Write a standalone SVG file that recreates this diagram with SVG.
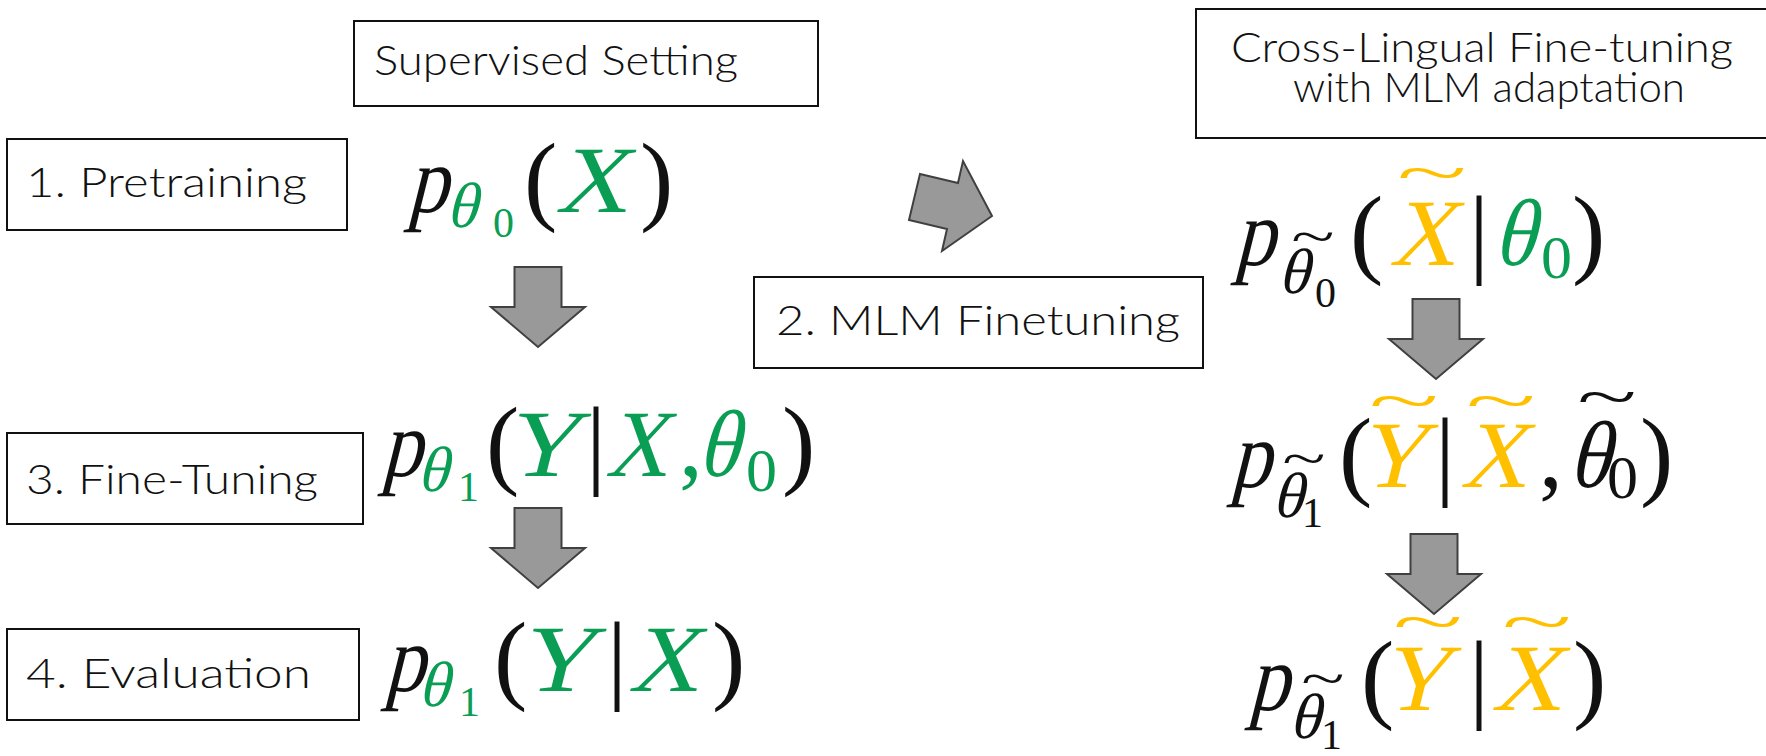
<svg xmlns="http://www.w3.org/2000/svg" width="1766" height="756" viewBox="0 0 1766 756">
  <style>
    .box { fill: #ffffff; stroke: #111111; stroke-width: 2; }
    .lbl { font-family: Lato, "Noto Sans", "Liberation Sans", sans-serif; font-weight: 300; font-size: 42px; fill: #111111; }
    /* math glyphs: serif roman, slanted by transform where italic */
    .mi { font-family: "Liberation Serif", "Times New Roman", serif; font-size: 95px; fill: #111111; }
    .si { font-family: "Liberation Serif", "Times New Roman", serif; font-size: 64px; fill: #111111; }
    .r  { font-family: "Liberation Serif", "Times New Roman", serif; font-size: 100px; fill: #111111; }
    .ss { font-family: "Liberation Serif", "Times New Roman", serif; font-size: 42px; fill: #111111; }
    .sd { font-family: "Liberation Serif", "Times New Roman", serif; font-size: 62px; fill: #111111; }
    .cm { font-family: "Liberation Serif", "Times New Roman", serif; font-size: 95px; fill: #111111; }
    .tl { font-family: "Liberation Serif", "Times New Roman", serif; font-size: 100px; text-anchor: middle; fill: #111111; }
    .g { fill: #0a9e55; }
    .y { fill: #ffc000; }
    .arrow { fill: #999999; stroke: #404040; stroke-width: 2; stroke-linejoin: miter; }
  </style>
  <defs>
    <path id="down" d="M-23.5,0 H23.5 V40 H47 L0,80 L-47,40 H-23.5 Z"/>
  </defs>
  <rect width="1766" height="756" fill="#ffffff"/>

  <!-- section headers -->
  <g id="supervised-setting">
    <rect class="box" x="354" y="21" width="464" height="85"/>
    <text class="lbl" x="374" y="75" textLength="364" lengthAdjust="spacingAndGlyphs">Supervised Setting</text>
  </g>
  <g id="cross-lingual">
    <rect class="box" x="1196" y="9" width="580" height="129"/>
    <text class="lbl" x="1231" y="62" textLength="502" lengthAdjust="spacingAndGlyphs">Cross-Lingual Fine-tuning</text>
    <text class="lbl" x="1293" y="102" textLength="392" lengthAdjust="spacingAndGlyphs">with MLM adaptation</text>
  </g>

  <!-- step labels -->
  <g id="step-pretraining">
    <rect class="box" x="7" y="139" width="340" height="91"/>
    <text class="lbl" x="26" y="197" textLength="281" lengthAdjust="spacingAndGlyphs">1. Pretraining</text>
  </g>
  <g id="step-mlm">
    <rect class="box" x="754" y="277" width="449" height="91"/>
    <text class="lbl" x="776" y="335" textLength="404" lengthAdjust="spacingAndGlyphs">2. MLM Finetuning</text>
  </g>
  <g id="step-finetuning">
    <rect class="box" x="7" y="433" width="356" height="91"/>
    <text class="lbl" x="26" y="494" textLength="292" lengthAdjust="spacingAndGlyphs">3. Fine-Tuning</text>
  </g>
  <g id="step-evaluation">
    <rect class="box" x="7" y="629" width="352" height="91"/>
    <text class="lbl" x="26" y="688" textLength="285" lengthAdjust="spacingAndGlyphs">4. Evaluation</text>
  </g>

  <!-- supervised formulas -->
  <g id="f-pretrain">
    <text class="mi" transform="translate(407,212) skewX(-14) scale(0.85,1)">p</text>
    <text class="si g" transform="translate(446,227) skewX(-14)">θ</text>
    <text class="ss g" x="493" y="237">0</text>
    <text class="r" x="524" y="212">(</text>
    <text class="mi g" transform="translate(555,212) skewX(-14) scale(1.05,1)">X</text>
    <text class="r" x="640" y="212">)</text>
  </g>
  <g id="f-finetune">
    <text class="mi" transform="translate(381,476) skewX(-14) scale(0.85,1)">p</text>
    <text class="si g" transform="translate(417,491) skewX(-14)">θ</text>
    <text class="ss g" x="458" y="501">1</text>
    <text class="r" x="486" y="476">(</text>
    <text class="mi g" transform="translate(503,476) skewX(-14) scale(1.1,1)">Y</text>
    <text class="r" x="586" y="476">|</text>
    <text class="mi g" transform="translate(605,476) skewX(-14) scale(0.9,1)">X</text>
    <text class="cm g" x="679" y="476">,</text>
    <text class="mi g" transform="translate(697,476) skewX(-14) scale(0.9,1)">θ</text>
    <text class="sd g" x="746" y="491">0</text>
    <text class="r" x="782" y="476">)</text>
  </g>
  <g id="f-eval">
    <text class="mi" transform="translate(384,691) skewX(-14) scale(0.85,1)">p</text>
    <text class="si g" transform="translate(418,706) skewX(-14)">θ</text>
    <text class="ss g" x="459" y="716">1</text>
    <text class="r" x="494" y="691">(</text>
    <text class="mi g" transform="translate(517,691) skewX(-14) scale(1.12,1)">Y</text>
    <text class="r" x="607" y="691">|</text>
    <text class="mi g" transform="translate(628,691) skewX(-14) scale(1.02,1)">X</text>
    <text class="r" x="712" y="691">)</text>
  </g>

  <!-- cross-lingual formulas -->
  <g id="f-mlm">
    <text class="mi" transform="translate(1234,265) skewX(-14) scale(0.85,1)">p</text>
    <text class="si" transform="translate(1278,293) skewX(-14)">θ</text>
    <text class="tl" y="25" transform="translate(1313,240) scale(0.8,0.5)">~</text>
    <text class="ss" x="1315" y="307">0</text>
    <text class="r" x="1350" y="265">(</text>
    <text class="mi y" transform="translate(1389,265) skewX(-14) scale(0.96,1)">X</text>
    <text class="tl y" y="25" transform="translate(1432,178) scale(1.3,0.6)">~</text>
    <text class="r" x="1469" y="265">|</text>
    <text class="mi g" transform="translate(1493,265) skewX(-14) scale(0.9,1)">θ</text>
    <text class="sd g" x="1541" y="278">0</text>
    <text class="r" x="1572" y="265">)</text>
  </g>
  <g id="f-xft">
    <text class="mi" transform="translate(1230,487) skewX(-14) scale(0.85,1)">p</text>
    <text class="si" transform="translate(1272,517) skewX(-14)">θ</text>
    <text class="tl" y="25" transform="translate(1304,462) scale(0.8,0.5)">~</text>
    <text class="ss" x="1302" y="527">1</text>
    <text class="r" x="1339" y="487">(</text>
    <text class="mi y" transform="translate(1357,487) skewX(-14)">Y</text>
    <text class="tl y" y="25" transform="translate(1404,406) scale(1.3,0.6)">~</text>
    <text class="r" x="1435" y="487">|</text>
    <text class="mi y" transform="translate(1460,487) skewX(-14) scale(0.96,1)">X</text>
    <text class="tl y" y="25" transform="translate(1501,406) scale(1.3,0.6)">~</text>
    <text class="cm" x="1539" y="487">,</text>
    <text class="mi" transform="translate(1568,487) skewX(-14) scale(0.9,1)">θ</text>
    <text class="tl" y="25" transform="translate(1607,402) scale(1.1,0.6)">~</text>
    <text class="sd" x="1607" y="498">0</text>
    <text class="r" x="1640" y="487">)</text>
  </g>
  <g id="f-xeval">
    <text class="mi" transform="translate(1248,710) skewX(-14) scale(0.85,1)">p</text>
    <text class="si" transform="translate(1289,738) skewX(-14)">θ</text>
    <text class="tl" y="25" transform="translate(1323,682) scale(0.8,0.5)">~</text>
    <text class="ss" x="1321" y="749">1</text>
    <text class="r" x="1361" y="710">(</text>
    <text class="mi y" transform="translate(1380,710) skewX(-14)">Y</text>
    <text class="tl y" y="25" transform="translate(1428,627) scale(1.3,0.6)">~</text>
    <text class="r" x="1469" y="710">|</text>
    <text class="mi y" transform="translate(1491,710) skewX(-14) scale(1.02,1)">X</text>
    <text class="tl y" y="25" transform="translate(1537,627) scale(1.3,0.6)">~</text>
    <text class="r" x="1573" y="710">)</text>
  </g>

  <!-- connectors -->
  <g id="connectors">
    <use href="#down" class="arrow" transform="translate(538,267)"/>
    <use href="#down" class="arrow" transform="translate(538,508)"/>
    <use href="#down" class="arrow" transform="translate(1436,299)"/>
    <use href="#down" class="arrow" transform="translate(1434,534)"/>
    <polygon class="arrow" points="920,174 958,183 963,161 992,216 942,251 947,229 909,220"/>
  </g>
</svg>
